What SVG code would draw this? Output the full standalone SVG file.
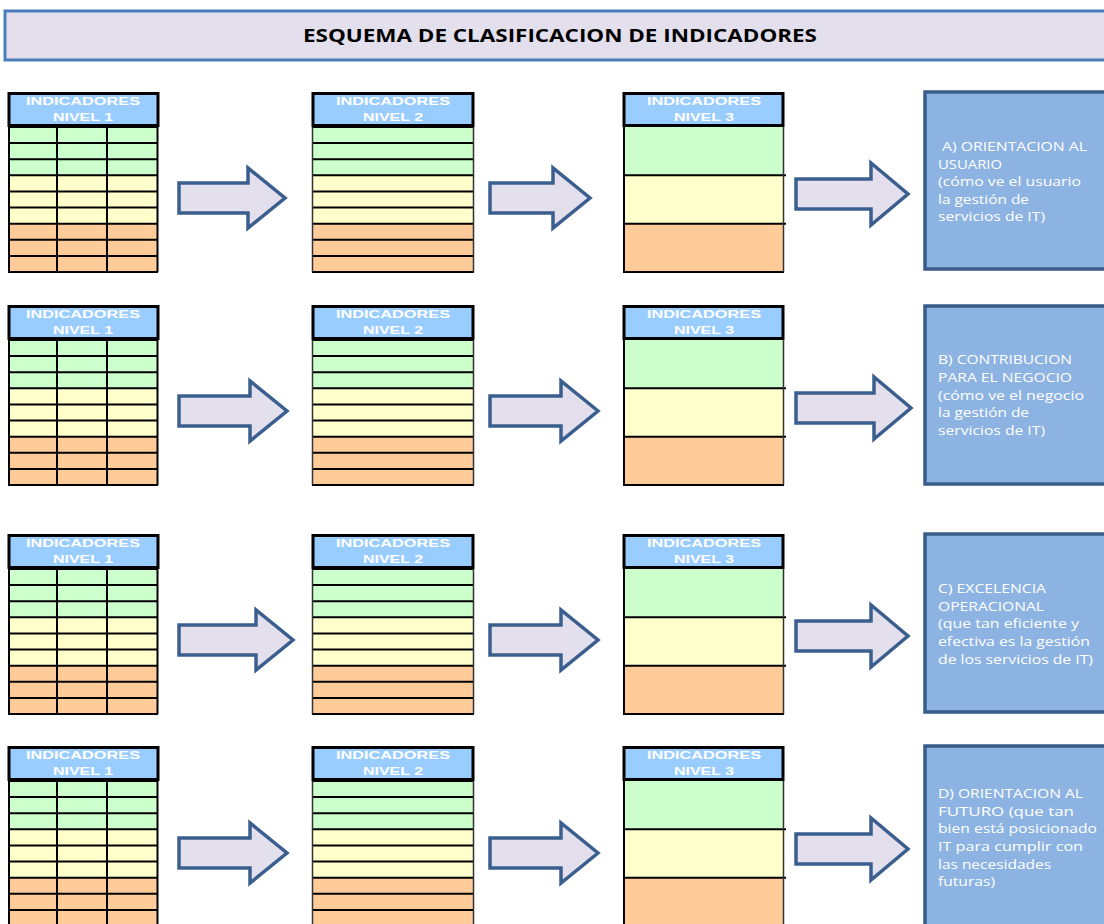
<svg xmlns="http://www.w3.org/2000/svg" xmlns:xlink="http://www.w3.org/1999/xlink" width="1104" height="924" viewBox="0 0 1104 924">
  <style>
    .bg { fill: #ffffff; }
    .title-box { fill: #E4DFEC; stroke: #4A7EBB; stroke-width: 3; }
    .title { font-family: "Open Sans", "Liberation Sans", sans-serif; font-weight: 700; font-size: 17px; fill: #000; }
    .hdr { fill: #99CCFF; stroke: #000; stroke-width: 3; }
    .hdr-text { font-family: "Liberation Sans", Arial, sans-serif; font-weight: 700; font-size: 11.5px; fill: #ffffff; text-anchor: middle; }
    .green { fill: #CCFFCC; }
    .yellow { fill: #FFFFCC; }
    .orange { fill: #FFCC99; }
    .grid { fill: none; stroke: #000; stroke-width: 2; }
    .edge { fill: none; stroke: #333; stroke-width: 1.5; }
    .goal { fill: #8DB3E2; stroke: #385D8A; stroke-width: 3.5; }
    .goal-text { font-family: "Open Sans", "Liberation Sans", sans-serif; font-size: 12.5px; fill: #ffffff; }
    .arrow { fill: #E4DFEC; stroke: #3A5F8F; stroke-width: 3.5; stroke-linejoin: miter; }
  </style>
  <defs>
    <!-- level 1: three columns, nine rows -->
    <g id="tbl-n1">
      <rect class="green" x="0" y="35" width="150" height="48.3"/>
      <rect class="yellow" x="0" y="83.3" width="150" height="48.4"/>
      <rect class="orange" x="0" y="131.7" width="150" height="48.3"/>
      <path class="grid" d="M0 35H150M0 51.1H150M0 67.2H150M0 83.3H150M0 99.4H150M0 115.6H150M0 131.7H150M0 147.8H150M0 163.9H150M0 180H150M1 35V180M49 35V180M99 35V180M149.5 35V180"/>
      <rect class="hdr" x="1" y="1.5" width="149" height="32"/>
    </g>
    <!-- level 2: one column, nine rows -->
    <g id="tbl-n2">
      <rect class="green" x="0" y="35" width="162" height="48.3"/>
      <rect class="yellow" x="0" y="83.3" width="162" height="48.4"/>
      <rect class="orange" x="0" y="131.7" width="162" height="48.3"/>
      <path class="grid" d="M0 35H162M0 51.1H162M0 67.2H162M0 83.3H162M0 99.4H162M0 115.6H162M0 131.7H162M0 147.8H162M0 163.9H162M0 180H162"/>
      <path class="edge" d="M0.5 35V180M161.5 35V180"/>
      <rect class="hdr" x="1" y="1.5" width="160" height="32"/>
    </g>
    <!-- level 3: three bands -->
    <g id="tbl-n3">
      <rect class="green" x="0" y="35" width="161" height="48.3"/>
      <rect class="yellow" x="0" y="83.3" width="161" height="48.4"/>
      <rect class="orange" x="0" y="131.7" width="161" height="48.3"/>
      <path class="grid" d="M0 83.3H163M0 131.7H163M0 180H161M1 35V180"/>
      <path class="edge" d="M160.5 35V180"/>
      <rect class="hdr" x="1" y="1.5" width="159" height="32"/>
    </g>
  </defs>

  <rect class="bg" x="0" y="0" width="1104" height="924"/>

  <!-- title banner -->
  <g id="title">
    <rect class="title-box" x="5" y="11" width="1110" height="49"/>
    <text class="title" x="303" y="42" textLength="514" lengthAdjust="spacingAndGlyphs">ESQUEMA DE CLASIFICACION DE INDICADORES</text>
  </g>

  <!-- row A -->
  <g id="a-nivel1" transform="translate(8,92)">
    <use href="#tbl-n1"/>
    <text class="hdr-text" x="75" y="13" textLength="114" lengthAdjust="spacingAndGlyphs">INDICADORES</text>
    <text class="hdr-text" x="75" y="29" textLength="60" lengthAdjust="spacingAndGlyphs">NIVEL 1</text>
  </g>
  <g id="a-nivel2" transform="translate(312,92)">
    <use href="#tbl-n2"/>
    <text class="hdr-text" x="81" y="13" textLength="114" lengthAdjust="spacingAndGlyphs">INDICADORES</text>
    <text class="hdr-text" x="81" y="29" textLength="60" lengthAdjust="spacingAndGlyphs">NIVEL 2</text>
  </g>
  <g id="a-nivel3" transform="translate(623,92)">
    <use href="#tbl-n3"/>
    <text class="hdr-text" x="81" y="13" textLength="114" lengthAdjust="spacingAndGlyphs">INDICADORES</text>
    <text class="hdr-text" x="81" y="29" textLength="60" lengthAdjust="spacingAndGlyphs">NIVEL 3</text>
  </g>
  <g id="a-goal">
    <rect class="goal" x="925" y="92" width="185" height="177"/>
    <text class="goal-text" x="942" y="151" textLength="145" lengthAdjust="spacingAndGlyphs">A) ORIENTACION AL</text>
    <text class="goal-text" x="938" y="168.5" textLength="64" lengthAdjust="spacingAndGlyphs">USUARIO</text>
    <text class="goal-text" x="938" y="186" textLength="143" lengthAdjust="spacingAndGlyphs">(cómo ve el usuario</text>
    <text class="goal-text" x="938" y="203.5" textLength="91" lengthAdjust="spacingAndGlyphs">la gestión de</text>
    <text class="goal-text" x="938" y="221" textLength="107" lengthAdjust="spacingAndGlyphs">servicios de IT)</text>
  </g>

  <!-- row B -->
  <g id="b-nivel1" transform="translate(8,305)">
    <use href="#tbl-n1"/>
    <text class="hdr-text" x="75" y="13" textLength="114" lengthAdjust="spacingAndGlyphs">INDICADORES</text>
    <text class="hdr-text" x="75" y="29" textLength="60" lengthAdjust="spacingAndGlyphs">NIVEL 1</text>
  </g>
  <g id="b-nivel2" transform="translate(312,305)">
    <use href="#tbl-n2"/>
    <text class="hdr-text" x="81" y="13" textLength="114" lengthAdjust="spacingAndGlyphs">INDICADORES</text>
    <text class="hdr-text" x="81" y="29" textLength="60" lengthAdjust="spacingAndGlyphs">NIVEL 2</text>
  </g>
  <g id="b-nivel3" transform="translate(623,305)">
    <use href="#tbl-n3"/>
    <text class="hdr-text" x="81" y="13" textLength="114" lengthAdjust="spacingAndGlyphs">INDICADORES</text>
    <text class="hdr-text" x="81" y="29" textLength="60" lengthAdjust="spacingAndGlyphs">NIVEL 3</text>
  </g>
  <g id="b-goal">
    <rect class="goal" x="925" y="306" width="185" height="178"/>
    <text class="goal-text" x="938" y="364" textLength="134" lengthAdjust="spacingAndGlyphs">B) CONTRIBUCION</text>
    <text class="goal-text" x="938" y="382" textLength="134" lengthAdjust="spacingAndGlyphs">PARA EL NEGOCIO</text>
    <text class="goal-text" x="938" y="400" textLength="146" lengthAdjust="spacingAndGlyphs">(cómo ve el negocio</text>
    <text class="goal-text" x="938" y="417" textLength="91" lengthAdjust="spacingAndGlyphs">la gestión de</text>
    <text class="goal-text" x="938" y="435" textLength="107" lengthAdjust="spacingAndGlyphs">servicios de IT)</text>
  </g>

  <!-- row C -->
  <g id="c-nivel1" transform="translate(8,534)">
    <use href="#tbl-n1"/>
    <text class="hdr-text" x="75" y="13" textLength="114" lengthAdjust="spacingAndGlyphs">INDICADORES</text>
    <text class="hdr-text" x="75" y="29" textLength="60" lengthAdjust="spacingAndGlyphs">NIVEL 1</text>
  </g>
  <g id="c-nivel2" transform="translate(312,534)">
    <use href="#tbl-n2"/>
    <text class="hdr-text" x="81" y="13" textLength="114" lengthAdjust="spacingAndGlyphs">INDICADORES</text>
    <text class="hdr-text" x="81" y="29" textLength="60" lengthAdjust="spacingAndGlyphs">NIVEL 2</text>
  </g>
  <g id="c-nivel3" transform="translate(623,534)">
    <use href="#tbl-n3"/>
    <text class="hdr-text" x="81" y="13" textLength="114" lengthAdjust="spacingAndGlyphs">INDICADORES</text>
    <text class="hdr-text" x="81" y="29" textLength="60" lengthAdjust="spacingAndGlyphs">NIVEL 3</text>
  </g>
  <g id="c-goal">
    <rect class="goal" x="925" y="534" width="185" height="178"/>
    <text class="goal-text" x="938" y="593" textLength="108" lengthAdjust="spacingAndGlyphs">C) EXCELENCIA</text>
    <text class="goal-text" x="938" y="610.5" textLength="106" lengthAdjust="spacingAndGlyphs">OPERACIONAL</text>
    <text class="goal-text" x="938" y="628" textLength="141" lengthAdjust="spacingAndGlyphs">(que tan eficiente y</text>
    <text class="goal-text" x="938" y="646" textLength="152" lengthAdjust="spacingAndGlyphs">efectiva es la gestión</text>
    <text class="goal-text" x="938" y="664" textLength="155" lengthAdjust="spacingAndGlyphs">de los servicios de IT)</text>
  </g>

  <!-- row D -->
  <g id="d-nivel1" transform="translate(8,746)">
    <use href="#tbl-n1"/>
    <text class="hdr-text" x="75" y="13" textLength="114" lengthAdjust="spacingAndGlyphs">INDICADORES</text>
    <text class="hdr-text" x="75" y="29" textLength="60" lengthAdjust="spacingAndGlyphs">NIVEL 1</text>
  </g>
  <g id="d-nivel2" transform="translate(312,746)">
    <use href="#tbl-n2"/>
    <text class="hdr-text" x="81" y="13" textLength="114" lengthAdjust="spacingAndGlyphs">INDICADORES</text>
    <text class="hdr-text" x="81" y="29" textLength="60" lengthAdjust="spacingAndGlyphs">NIVEL 2</text>
  </g>
  <g id="d-nivel3" transform="translate(623,746)">
    <use href="#tbl-n3"/>
    <text class="hdr-text" x="81" y="13" textLength="114" lengthAdjust="spacingAndGlyphs">INDICADORES</text>
    <text class="hdr-text" x="81" y="29" textLength="60" lengthAdjust="spacingAndGlyphs">NIVEL 3</text>
  </g>
  <g id="d-goal">
    <rect class="goal" x="925" y="746" width="185" height="190"/>
    <text class="goal-text" x="938" y="798" textLength="145" lengthAdjust="spacingAndGlyphs">D) ORIENTACION AL</text>
    <text class="goal-text" x="938" y="815.5" textLength="136" lengthAdjust="spacingAndGlyphs">FUTURO (que tan</text>
    <text class="goal-text" x="938" y="833" textLength="159" lengthAdjust="spacingAndGlyphs">bien está posicionado</text>
    <text class="goal-text" x="938" y="851" textLength="145" lengthAdjust="spacingAndGlyphs">IT para cumplir con</text>
    <text class="goal-text" x="938" y="868.5" textLength="113" lengthAdjust="spacingAndGlyphs">las necesidades</text>
    <text class="goal-text" x="938" y="886" textLength="57" lengthAdjust="spacingAndGlyphs">futuras)</text>
  </g>

  <!-- block arrows between levels -->
  <g id="connectors">
    <path class="arrow" d="M179 183H248V168L285 198L248 228V213H179Z"/>
    <path class="arrow" d="M490 183H553V168L590 198L553 228V213H490Z"/>
    <path class="arrow" d="M796 179H871V163L908 194L871 225V209H796Z"/>

    <path class="arrow" d="M179 396H250V381L287 411L250 441V426H179Z"/>
    <path class="arrow" d="M490 396H561V381L598 411L561 441V426H490Z"/>
    <path class="arrow" d="M796 393H874V377L911 408L874 439V423H796Z"/>

    <path class="arrow" d="M179 625H256V610L293 640L256 670V655H179Z"/>
    <path class="arrow" d="M490 625H561V610L598 640L561 670V655H490Z"/>
    <path class="arrow" d="M796 621H871V605L908 636L871 667V651H796Z"/>

    <path class="arrow" d="M179 838H250V823L287 853L250 883V868H179Z"/>
    <path class="arrow" d="M490 838H561V823L598 853L561 883V868H490Z"/>
    <path class="arrow" d="M796 834H871V818L908 849L871 880V864H796Z"/>
  </g>
</svg>
